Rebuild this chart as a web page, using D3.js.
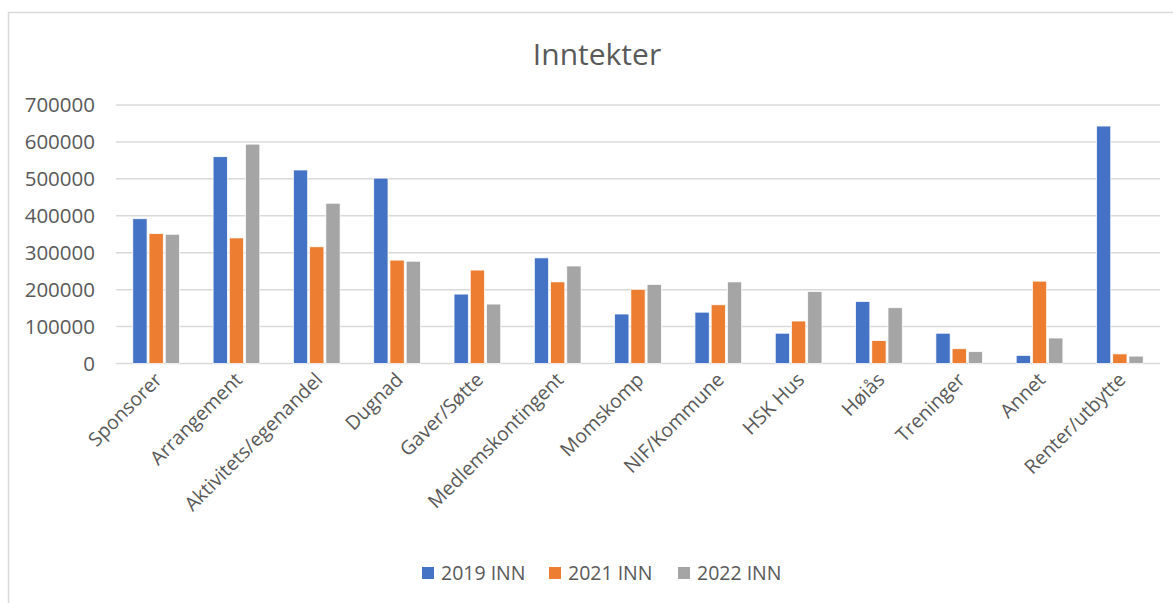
<!DOCTYPE html>
<html>
<head>
<meta charset="utf-8">
<script src="https://cdn.jsdelivr.net/npm/d3@7"></script>
<style>
  body { margin: 0; background: #fff; }
  svg { font-family: "Open Sans", sans-serif; }
</style>
</head>
<body>
<div id="chart"></div>
<script>
const categories = ["Sponsorer", "Arrangement", "Aktivitets/egenandel", "Dugnad", "Gaver/Søtte",
  "Medlemskontingent", "Momskomp", "NIF/Kommune", "HSK Hus", "Høiås", "Treninger", "Annet", "Renter/utbytte"];
const seriesNames = ["2019 INN", "2021 INN", "2022 INN"];
const inn2019 = [392000, 560000, 524000, 502000, 188000, 286000, 134000, 139000, 82000, 168000, 82000, 22000, 643000];
const inn2021 = [352000, 340000, 316000, 280000, 253000, 221000, 201000, 159000, 115000, 62000, 40000, 223000, 26000];
const inn2022 = [350000, 594000, 434000, 277000, 161000, 264000, 214000, 221000, 195000, 151000, 32000, 69000, 20000];
const yTicks = [0, 100000, 200000, 300000, 400000, 500000, 600000, 700000];
const colors = ["#4472C4", "#ED7D31", "#A5A5A5"];

const width = 1173, height = 603;
const series = [inn2019, inn2021, inn2022];

const svg = d3.select("#chart").append("svg")
  .attr("width", width)
  .attr("height", height);

// chart frame (left and top edges visible)
svg.append("path")
  .attr("d", "M8.5,603 V12.5 H1173")
  .attr("fill", "none")
  .attr("stroke", "#D9D9D9")
  .attr("stroke-width", 1.5);

svg.append("text")
  .attr("x", 597)
  .attr("y", 65)
  .attr("text-anchor", "middle")
  .attr("font-size", 30)
  .attr("fill", "#595959")
  .text("Inntekter");

const x0 = d3.scaleBand()
  .domain(categories)
  .range([116, 1160])
  .paddingInner(0.37)
  .paddingOuter(0.185);

const x1 = d3.scaleBand()
  .domain(d3.range(series.length))
  .range([0, x0.bandwidth()])
  .padding(0.12);

const y = d3.scaleLinear()
  .domain([0, 700000])
  .range([363.5, 105]);

// gridlines
svg.append("g")
  .selectAll("line")
  .data(yTicks)
  .join("line")
  .attr("x1", 116)
  .attr("x2", 1160)
  .attr("y1", d => y(d))
  .attr("y2", d => y(d))
  .attr("stroke", "#D9D9D9")
  .attr("stroke-width", 1.5);

// y axis labels
svg.append("g")
  .selectAll("text")
  .data(yTicks)
  .join("text")
  .attr("x", 95)
  .attr("y", d => y(d))
  .attr("dy", "0.35em")
  .attr("text-anchor", "end")
  .attr("font-size", 20.5)
  .attr("fill", "#595959")
  .text(d => d);

// bars
const groups = svg.append("g")
  .selectAll("g")
  .data(categories)
  .join("g")
  .attr("transform", d => `translate(${x0(d)},0)`);

groups.selectAll("rect")
  .data((d, i) => series.map((s, k) => ({ k, v: s[i] })))
  .join("rect")
  .attr("x", d => x1(d.k))
  .attr("y", d => y(d.v))
  .attr("width", x1.bandwidth())
  .attr("height", d => y(0) - y(d.v))
  .attr("fill", d => colors[d.k])
  .attr("stroke", "#fff")
  .attr("stroke-width", 0.75);

// x axis labels
svg.append("g")
  .selectAll("text")
  .data(categories)
  .join("text")
  .attr("transform", d => `translate(${x0(d) + x0.bandwidth() / 2 + 7},381) rotate(-45)`)
  .attr("text-anchor", "end")
  .attr("font-size", 19.5)
  .attr("fill", "#595959")
  .text(d => d);

// legend
const legendX = [422, 549, 678];
const legend = svg.append("g")
  .selectAll("g")
  .data(seriesNames)
  .join("g")
  .attr("transform", (d, i) => `translate(${legendX[i]},573)`);

legend.append("rect")
  .attr("x", 0)
  .attr("y", -6)
  .attr("width", 12)
  .attr("height", 12)
  .attr("fill", (d, i) => colors[i]);

legend.append("text")
  .attr("x", 19)
  .attr("dy", "0.35em")
  .attr("font-size", 19.5)
  .attr("fill", "#595959")
  .text(d => d);
</script>
</body>
</html>
